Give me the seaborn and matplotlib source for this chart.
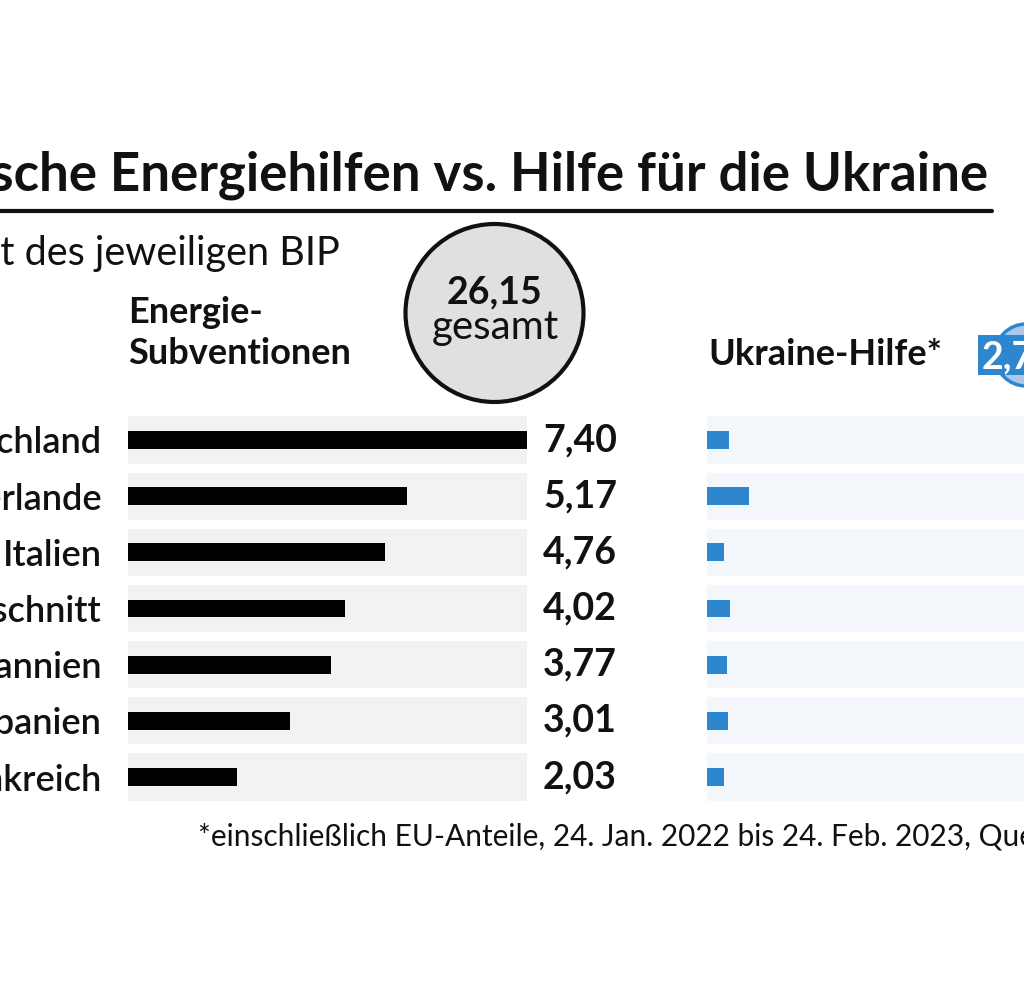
import pandas as pd
import matplotlib
matplotlib.use("Agg")
import matplotlib.pyplot as plt
import seaborn as sns
from matplotlib.patches import Circle, Rectangle
from matplotlib.lines import Line2D

# Daten (in Prozent des jeweiligen BIP)
laender = ["Deutschland", "Niederlande", "Italien", "EU-Durchschnitt",
           "Großbritannien", "Spanien", "Frankreich"]
energie = [7.40, 5.17, 4.76, 4.02, 3.77, 3.01, 2.03]
ukraine = [0.43, 0.82, 0.33, 0.45, 0.39, 0.41, 0.33]
energie_gesamt = "26,15"
ukraine_gesamt = "2,71"

sns.set_theme(style="white")
plt.rcParams["font.family"] = ["Lato", "DejaVu Sans"]

W, H = 1024, 1001
fig = plt.figure(figsize=(W / 100, H / 100), dpi=100)
fig.patch.set_facecolor("white")


def fx(p):
    return p / W


def fy(p):
    return 1 - p / H


df = pd.DataFrame({"Land": laender, "Energie": energie, "Ukraine": ukraine})
df["Hintergrund"] = max(energie)

top, bottom = 411.9, 805.1
ax1 = fig.add_axes([fx(128), fy(bottom), 399 / W, (bottom - top) / H])
sns.barplot(data=df, y="Land", x="Hintergrund", color="#f2f2f2", width=0.84,
            saturation=1, linewidth=0, ax=ax1)
sns.barplot(data=df, y="Land", x="Energie", color="black", width=0.32,
            saturation=1, linewidth=0, ax=ax1)
ax1.set_xlim(0, max(energie))
ax1.set_ylim(6.5, -0.5)
ax1.set_xlabel("")
ax1.set_ylabel("")
ax1.set_xticks([])
ax1.tick_params(axis="y", length=0, pad=18.7, labelsize=26)
for lab in ax1.get_yticklabels():
    lab.set_fontweight("semibold")
    lab.set_color("#111111")
sns.despine(ax=ax1, left=True, bottom=True)
ax1.patch.set_alpha(0)
for i, v in enumerate(energie):
    ax1.text(1.04, i, f"{v:.2f}".replace(".", ","), transform=ax1.get_yaxis_transform(),
             ha="left", va="center", fontsize=27, fontweight="bold", color="#111111")

ax2 = fig.add_axes([fx(707), fy(bottom), (W - 707) / W, (bottom - top) / H])
sns.barplot(data=df, y="Land", x="Hintergrund", color="#f3f6fb", width=0.84,
            saturation=1, linewidth=0, ax=ax2)
sns.barplot(data=df, y="Land", x="Ukraine", color="#2e86cf", width=0.32,
            saturation=1, linewidth=0, ax=ax2)
ax2.set_xlim(0, (W - 707) / 51.5)
ax2.set_ylim(6.5, -0.5)
ax2.set_xlabel("")
ax2.set_ylabel("")
ax2.set_xticks([])
ax2.set_yticks([])
sns.despine(ax=ax2, left=True, bottom=True)
ax2.patch.set_alpha(0)

# Titel und Linie
fig.text(fx(988), fy(191), "Europäische Energiehilfen vs. Hilfe für die Ukraine",
         ha="right", va="baseline", fontsize=38, fontweight="bold", color="#111111")
fig.add_artist(Line2D([0, fx(992)], [fy(211), fy(211)], lw=3, color="#111111"))
fig.text(fx(340), fy(265), "in Prozent des jeweiligen BIP", ha="right", va="baseline",
         fontsize=28.5, color="#111111")

# Kreis mit Gesamtsumme
fig.add_artist(Circle((494.5 / 100, (H - 313) / 100), 0.89, transform=fig.dpi_scale_trans,
                      facecolor="#e0e0e0", edgecolor="#111111", lw=3))
fig.text(fx(495), fy(303), energie_gesamt, ha="center", va="baseline",
         fontsize=27, fontweight="bold", color="#111111")
fig.text(fx(495), fy(339), "gesamt", ha="center", va="baseline",
         fontsize=29, color="#111111")

fig.text(fx(128), fy(323), "Energie-", ha="left", va="baseline",
         fontsize=26, fontweight="bold", color="#111111")
fig.text(fx(128), fy(364), "Subventionen", ha="left", va="baseline",
         fontsize=26, fontweight="bold", color="#111111")
fig.text(fx(708), fy(365), "Ukraine-Hilfe*", ha="left", va="baseline",
         fontsize=26, fontweight="bold", color="#111111")

# Badge Ukraine
fig.add_artist(Circle((1026 / 100, (H - 355) / 100), 0.31, transform=fig.dpi_scale_trans,
                      facecolor="#a9c8ea", edgecolor="#2e86cf", lw=2.5))
fig.add_artist(Rectangle((978 / 100, (H - 375) / 100), 1.0, 0.40, transform=fig.dpi_scale_trans,
                         facecolor="#2e86cf", edgecolor="none"))
fig.text(fx(982), fy(368), ukraine_gesamt, ha="left", va="baseline",
         fontsize=27, fontweight="bold", color="white")

fig.text(fx(198), fy(846),
         "*einschließlich EU-Anteile, 24. Jan. 2022 bis 24. Feb. 2023, Quelle: Bruegel, IfW Kiel",
         ha="left", va="baseline", fontsize=21.5, color="#111111")

plt.savefig("out.png", dpi=100)
